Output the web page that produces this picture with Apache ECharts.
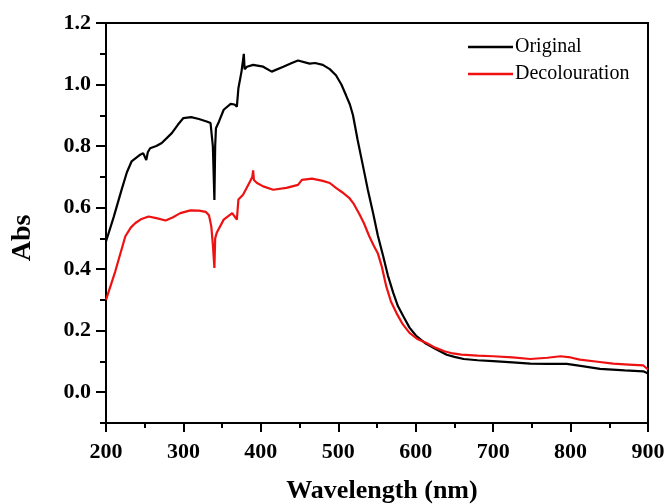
<!DOCTYPE html>
<html>
<head>
<meta charset="utf-8">
<script src="https://cdn.jsdelivr.net/npm/echarts@6/dist/echarts.min.js"></script>
<style>html,body{margin:0;padding:0;background:#fff}#c{width:668px;height:504px}</style>
</head>
<body>
<div id="c"></div>
<script>
var seriesNames = ['Original', 'Decolouration'];
var origWavelength = [200,210,220,227,233,243,248,252,254,257,265,272,285,293,300,310,320,330,335,338,340,341,342,346,352,361,366,369,371,375,377,378,379,382,390,403,414,429,440,448,463,470,480,489,497,504,510,515,519,525,532,538,545,551,558,564,571,577,584,592,601,613,627,640,650,662,680,700,725,748,770,795,815,838,870,894,900];
var origAbs = [0.49,0.57,0.657,0.715,0.75,0.77,0.777,0.755,0.78,0.793,0.80,0.81,0.842,0.87,0.891,0.894,0.888,0.88,0.875,0.80,0.625,0.80,0.858,0.88,0.918,0.937,0.935,0.928,0.988,1.042,1.04,1.10,1.05,1.058,1.064,1.058,1.042,1.058,1.07,1.078,1.068,1.07,1.064,1.05,1.03,1.0,0.965,0.935,0.90,0.82,0.734,0.66,0.582,0.51,0.442,0.38,0.323,0.28,0.247,0.21,0.182,0.158,0.139,0.122,0.115,0.108,0.104,0.101,0.097,0.093,0.092,0.092,0.085,0.076,0.071,0.068,0.061];
var decWavelength = [200,212,225,232,238,245,255,265,277,286,296,309,320,329,333,336,338,340,341,343,352,363,369,371,377,386,389,390,391,395,403,416,433,448,453,466,480,489,497,505,514,520,527,533,540,546,551,556,562,568,575,583,592,602,614,625,637,648,659,680,700,725,748,770,787,800,812,835,855,875,894,900];
var decAbs = [0.30,0.393,0.507,0.535,0.55,0.562,0.571,0.566,0.558,0.568,0.582,0.591,0.59,0.586,0.575,0.539,0.48,0.404,0.50,0.518,0.561,0.582,0.561,0.626,0.642,0.685,0.70,0.721,0.69,0.68,0.669,0.658,0.664,0.674,0.690,0.694,0.687,0.68,0.664,0.65,0.632,0.612,0.58,0.55,0.507,0.475,0.452,0.41,0.344,0.295,0.258,0.222,0.193,0.173,0.160,0.145,0.133,0.126,0.122,0.119,0.117,0.113,0.108,0.112,0.117,0.113,0.106,0.099,0.093,0.09,0.087,0.074];
var yMajorTicks = [0.0,0.2,0.4,0.6,0.8,1.0,1.2];
var yMinorTicks = [-0.1,0.1,0.3,0.5,0.7,0.9,1.1];

function pairs(xs, ys){ return xs.map(function(x,i){ return [x, ys[i]]; }); }

var FONT = "'Liberation Serif','Times New Roman',serif";
var chart = echarts.init(document.getElementById('c'), null, {renderer:'canvas'});
chart.setOption({
  animation: false,
  backgroundColor: '#fff',
  grid: {left:106, right:20, top:23, bottom:81, outerBoundsMode:'none', containLabel:false,
         show:true, borderColor:'#000', borderWidth:2, backgroundColor:'transparent'},
  legend: {
    data: seriesNames, orient:'vertical', left:463, top:32, itemWidth:45, itemHeight:2.5, itemGap:7, icon:'rect',
    textStyle:{fontFamily:FONT, fontSize:20, color:'#000', padding:[0,0,0,-3]}
  },
  xAxis: {
    type:'value', min:200, max:900, interval:100,
    name:'Wavelength (nm)', nameLocation:'middle', nameGap:55,
    nameTextStyle:{fontFamily:FONT, fontSize:26, fontWeight:'bold', color:'#000', padding:[0,0,0,10]},
    axisLine:{show:true, onZero:false, lineStyle:{color:'#000', width:2}},
    axisTick:{show:true, inside:false, length:9, lineStyle:{color:'#000', width:2}},
    minorTick:{show:true, splitNumber:2, length:5, lineStyle:{color:'#000', width:2}},
    axisLabel:{fontFamily:FONT, fontSize:22, fontWeight:'bold', color:'#000', margin:18},
    splitLine:{show:false}
  },
  yAxis: [{
    type:'value', min:-0.1, max:1.2,
    name:'Abs', nameLocation:'middle', nameGap:69, nameRotate:90,
    nameTextStyle:{fontFamily:FONT, fontSize:28, fontWeight:'bold', color:'#000', padding:[0,30,0,0]},
    axisLine:{show:true, onZero:false, lineStyle:{color:'#000', width:2}},
    axisTick:{show:true, inside:false, length:10, customValues:yMajorTicks, lineStyle:{color:'#000', width:2}},
    axisLabel:{customValues:yMajorTicks, fontFamily:FONT, fontSize:22, fontWeight:'bold', color:'#000', margin:15,
      formatter:function(v){ return v.toFixed(1); }},
    splitLine:{show:false}
  },{
    type:'value', min:-0.1, max:1.2, position:'left',
    axisLine:{show:false},
    axisTick:{show:true, inside:false, length:6, customValues:yMinorTicks, lineStyle:{color:'#000', width:2}},
    axisLabel:{show:false},
    splitLine:{show:false}
  }],
  series: [
    {name:seriesNames[0], type:'line', data:pairs(origWavelength, origAbs), symbol:'none', smooth:false,
     lineStyle:{color:'#000', width:2.2}, itemStyle:{color:'#000'}},
    {name:seriesNames[1], type:'line', data:pairs(decWavelength, decAbs), symbol:'none', smooth:false,
     lineStyle:{color:'#ee1111', width:2.2}, itemStyle:{color:'#ee1111'}}
  ]
});
</script>
</body>
</html>
